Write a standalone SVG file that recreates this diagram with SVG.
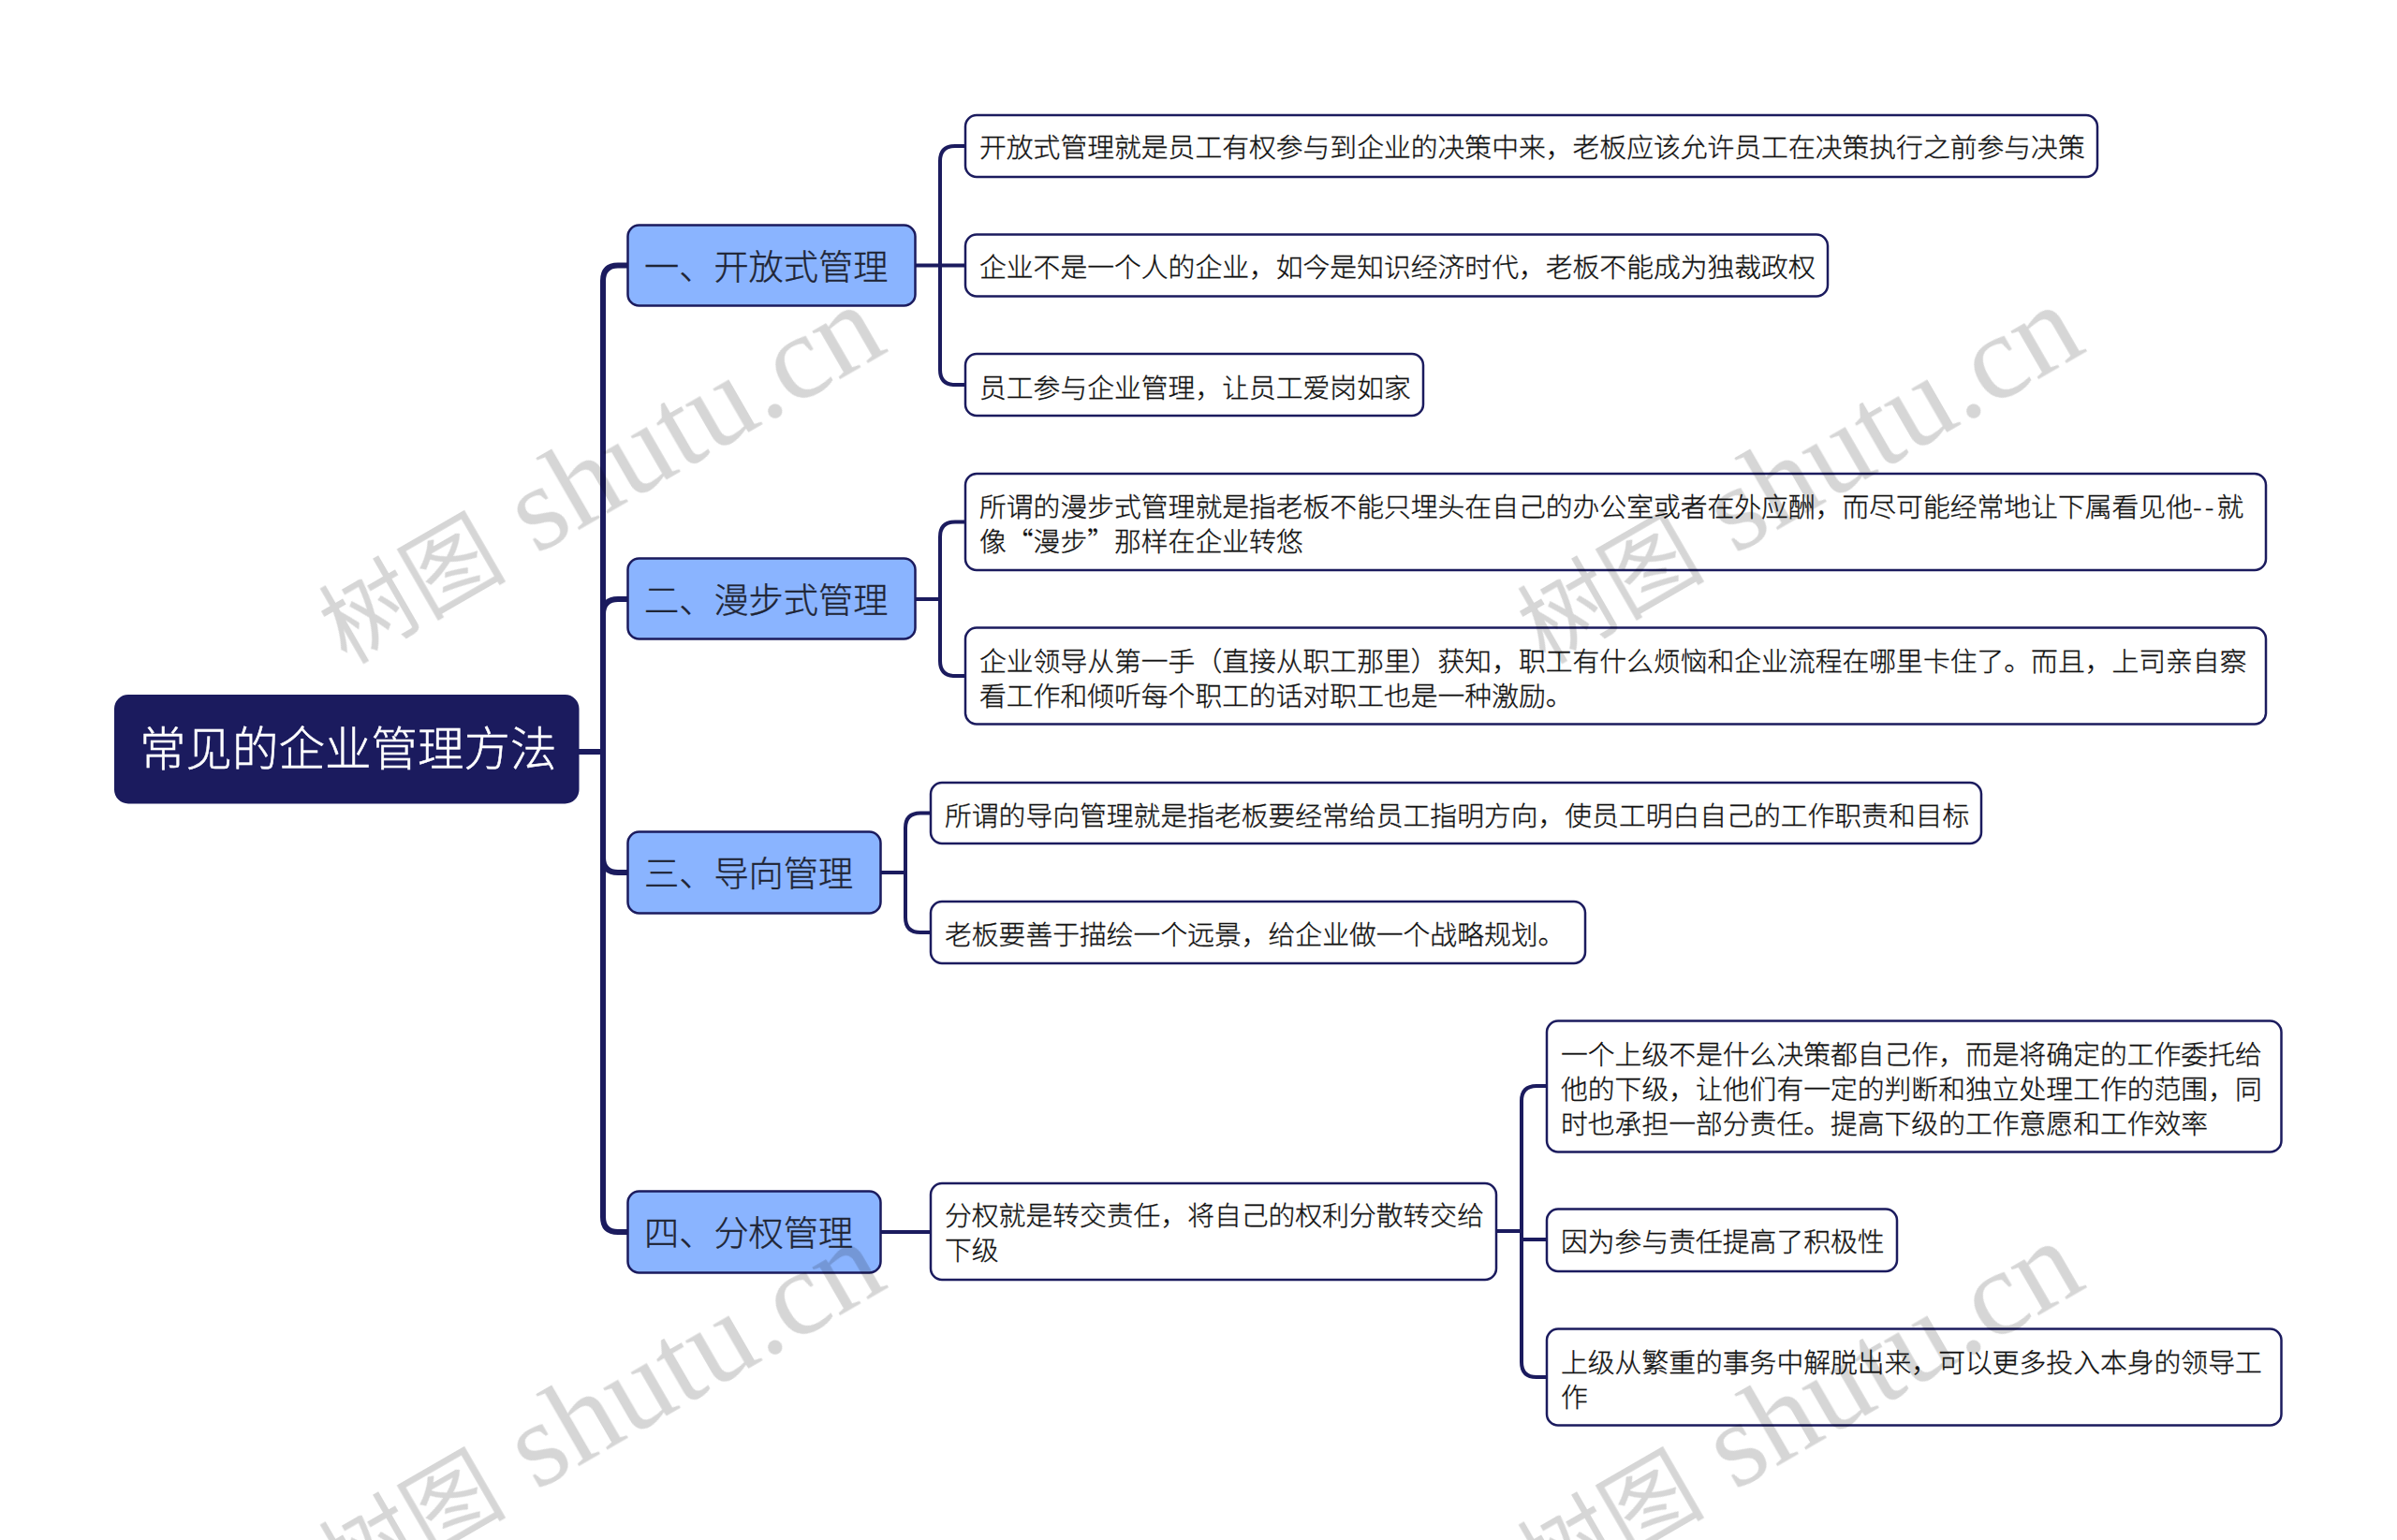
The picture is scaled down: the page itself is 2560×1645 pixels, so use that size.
<svg xmlns="http://www.w3.org/2000/svg" width="2560" height="1645" viewBox="0 0 2560 1645">
<defs>
<style>
text{font-family:"Noto Sans CJK SC","Noto Sans",sans-serif;font-weight:300}
.wm{font-family:"Liberation Serif","Noto Sans CJK SC",serif;font-size:130px;font-weight:400;fill:#d6d6d6}
.wm .cn{font-size:100px;font-family:"Noto Sans CJK SC",serif}
#watermark{mix-blend-mode:multiply}
.conn path{fill:none;stroke:#1b1b5e;stroke-linejoin:round}
.main{stroke-width:6}
.sub{stroke-width:4}
.root rect{fill:#1b1b5e;stroke:#1b1b5e;stroke-width:2}
.root text{fill:#fff;stroke:#fff;stroke-width:.5px;font-size:49.500px}
.lv1 rect{fill:#8ab4ff;stroke:#1b1b5e;stroke-width:2.500}
.lv1 text{fill:#1f2535;stroke:#1f2535;stroke-width:.35px;font-size:37.200px}
.leaf rect{fill:#fff;stroke:#1b1b5e;stroke-width:2.500}
.leaf text{fill:#111;stroke:#111;stroke-width:.3px;font-size:28.800px}
.dash{letter-spacing:3.200px}
</style>
</defs>
<rect width="2560" height="1645" fill="#fff"/>
<g id="connectors" class="conn">
<path class="main" d="M618 803H644"/>
<path class="main" d="M670 283.500H660Q644 283.500 644 300V1300Q644 1316 660 1316H670"/>
<path class="main" d="M644 656Q644 640 660 640H670"/>
<path class="main" d="M644 916Q644 932 660 932H670"/>
<path class="sub" d="M978 283.500H1030"/>
<path class="sub" d="M1030 156H1020Q1004 156 1004 172V395Q1004 411 1020 411H1030"/>
<path class="sub" d="M978 640H1004"/>
<path class="sub" d="M1030 557.500H1020Q1004 557.500 1004 573.500V706Q1004 722 1020 722H1030"/>
<path class="sub" d="M940 932H967"/>
<path class="sub" d="M994 868.500H983Q967 868.500 967 884.500V980Q967 996 983 996H994"/>
<path class="sub" d="M940 1316H994"/>
<path class="sub" d="M1598 1315H1625"/>
<path class="sub" d="M1652 1160H1641Q1625 1160 1625 1176V1455Q1625 1471 1641 1471H1652"/>
<path class="sub" d="M1625 1324H1652"/>
</g>
<g id="root" class="root"><rect x="123" y="743" width="494.500" height="114.500" rx="14"/><text x="149" y="818">常见的企业管理方法</text></g>
<g id="n1" class="lv1"><rect x="670.500" y="240.500" width="307" height="86" rx="12"/><text x="688" y="299">一、开放式管理</text></g>
<g id="n2" class="lv1"><rect x="670.500" y="596.500" width="307" height="86" rx="12"/><text x="688" y="655">二、漫步式管理</text></g>
<g id="n3" class="lv1"><rect x="670.500" y="888.500" width="270" height="87" rx="12"/><text x="688" y="947">三、导向管理</text></g>
<g id="n4" class="lv1"><rect x="670.500" y="1272.500" width="270" height="87" rx="12"/><text x="688" y="1331">四、分权管理</text></g>
<g id="l1a" class="leaf"><rect x="1031" y="123" width="1209" height="66" rx="12"/><text x="1046" y="168">开放式管理就是员工有权参与到企业的决策中来，老板应该允许员工在决策执行之前参与决策</text></g>
<g id="l1b" class="leaf"><rect x="1031" y="250.500" width="921" height="66" rx="12"/><text x="1046" y="296">企业不是一个人的企业，如今是知识经济时代，老板不能成为独裁政权</text></g>
<g id="l1c" class="leaf"><rect x="1031" y="378" width="489" height="66" rx="12"/><text x="1046" y="424.500">员工参与企业管理，让员工爱岗如家</text></g>
<g id="l2a" class="leaf"><rect x="1031" y="506" width="1389" height="103" rx="12"/><text x="1046" y="552">所谓的漫步式管理就是指老板不能只埋头在自己的办公室或者在外应酬，而尽可能经常地让下属看见他<tspan class="dash">--</tspan>就</text><text x="1046" y="589">像“漫步”那样在企业转悠</text></g>
<g id="l2b" class="leaf"><rect x="1031" y="670.500" width="1389" height="103" rx="12"/><text x="1046" y="717">企业领导从第一手（直接从职工那里）获知，职工有什么烦恼和企业流程在哪里卡住了。而且，上司亲自察</text><text x="1046" y="754">看工作和倾听每个职工的话对职工也是一种激励。</text></g>
<g id="l3a" class="leaf"><rect x="994" y="836" width="1122" height="65" rx="12"/><text x="1009" y="882">所谓的导向管理就是指老板要经常给员工指明方向，使员工明白自己的工作职责和目标</text></g>
<g id="l3b" class="leaf"><rect x="994" y="963" width="699" height="66" rx="12"/><text x="1009" y="1009">老板要善于描绘一个远景，给企业做一个战略规划。</text></g>
<g id="l4" class="leaf"><rect x="994" y="1264" width="604" height="103" rx="12"/><text x="1009" y="1309">分权就是转交责任，将自己的权利分散转交给</text><text x="1009" y="1346">下级</text></g>
<g id="l4a" class="leaf"><rect x="1652" y="1090.500" width="784.500" height="140" rx="12"/><text x="1667" y="1137">一个上级不是什么决策都自己作，而是将确定的工作委托给</text><text x="1667" y="1174">他的下级，让他们有一定的判断和独立处理工作的范围，同</text><text x="1667" y="1211">时也承担一部分责任。提高下级的工作意愿和工作效率</text></g>
<g id="l4b" class="leaf"><rect x="1652" y="1291.500" width="374" height="66.500" rx="12"/><text x="1667" y="1337">因为参与责任提高了积极性</text></g>
<g id="l4c" class="leaf"><rect x="1652" y="1419.500" width="784.500" height="103" rx="12"/><text x="1667" y="1466">上级从繁重的事务中解脱出来，可以更多投入本身的领导工</text><text x="1667" y="1503">作</text></g>
<g id="watermark">
<text class="wm" transform="translate(576 591) rotate(-30)"><tspan class="cn" x="-238">树图 </tspan><tspan x="-4">shutu.cn</tspan></text>
<text class="wm" transform="translate(1856 591) rotate(-30)"><tspan class="cn" x="-238">树图 </tspan><tspan x="-4">shutu.cn</tspan></text>
<text class="wm" transform="translate(576 1591) rotate(-30)"><tspan class="cn" x="-238">树图 </tspan><tspan x="-4">shutu.cn</tspan></text>
<text class="wm" transform="translate(1856 1591) rotate(-30)"><tspan class="cn" x="-238">树图 </tspan><tspan x="-4">shutu.cn</tspan></text>
</g>
</svg>
